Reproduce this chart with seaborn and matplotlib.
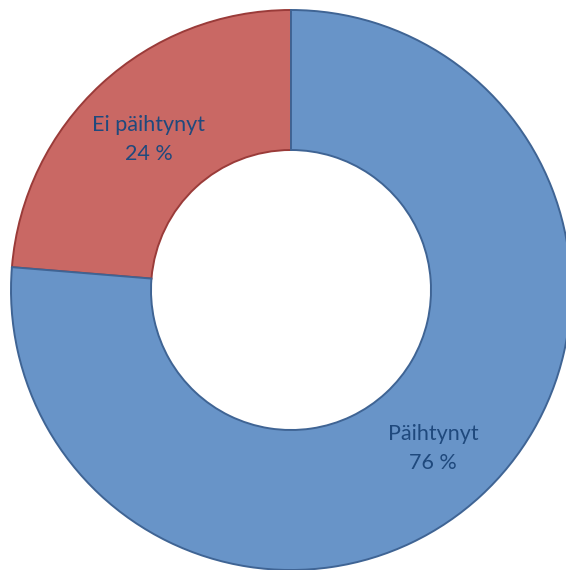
import matplotlib.pyplot as plt
import seaborn as sns

labels = ['Ei päihtynyt', 'Päihtynyt']
shares = [23.7, 76.3]
fill_colors = ['#C96864', '#6894C8']
edge_colors = ['#9A3B39', '#3F6494']

sns.set_theme(style='white')
plt.rcParams['font.family'] = ['Lato', 'DejaVu Sans']

fig = plt.figure(figsize=(5.66, 5.70), dpi=100)
ax = fig.add_axes([0, 0, 1, 1])

texts = [f'{lab}\n{round(val)} %' for lab, val in zip(labels, shares)]
wedges, label_texts = ax.pie(
    shares, labels=texts, colors=fill_colors, startangle=90,
    counterclock=True, radius=1.0, labeldistance=0.75,
    wedgeprops=dict(width=0.5, linewidth=1.4),
    textprops=dict(color='#1F497D', fontsize=15.5, ha='center', va='center',
                   linespacing=1.55),
)
for w, ec in zip(wedges, edge_colors):
    w.set_edgecolor(ec)
# nudge labels down a touch
for t in label_texts:
    x, y = t.get_position()
    t.set_position((x, y - 0.014))

# place the donut like the reference (slightly clipped on right/bottom)
ax.set_xlim(-291 / 280, (566 - 291) / 280)
ax.set_ylim(-1.0, 290 / 280)
ax.set_aspect('equal')
ax.axis('off')

fig.savefig('out.png', dpi=100, facecolor='white')
